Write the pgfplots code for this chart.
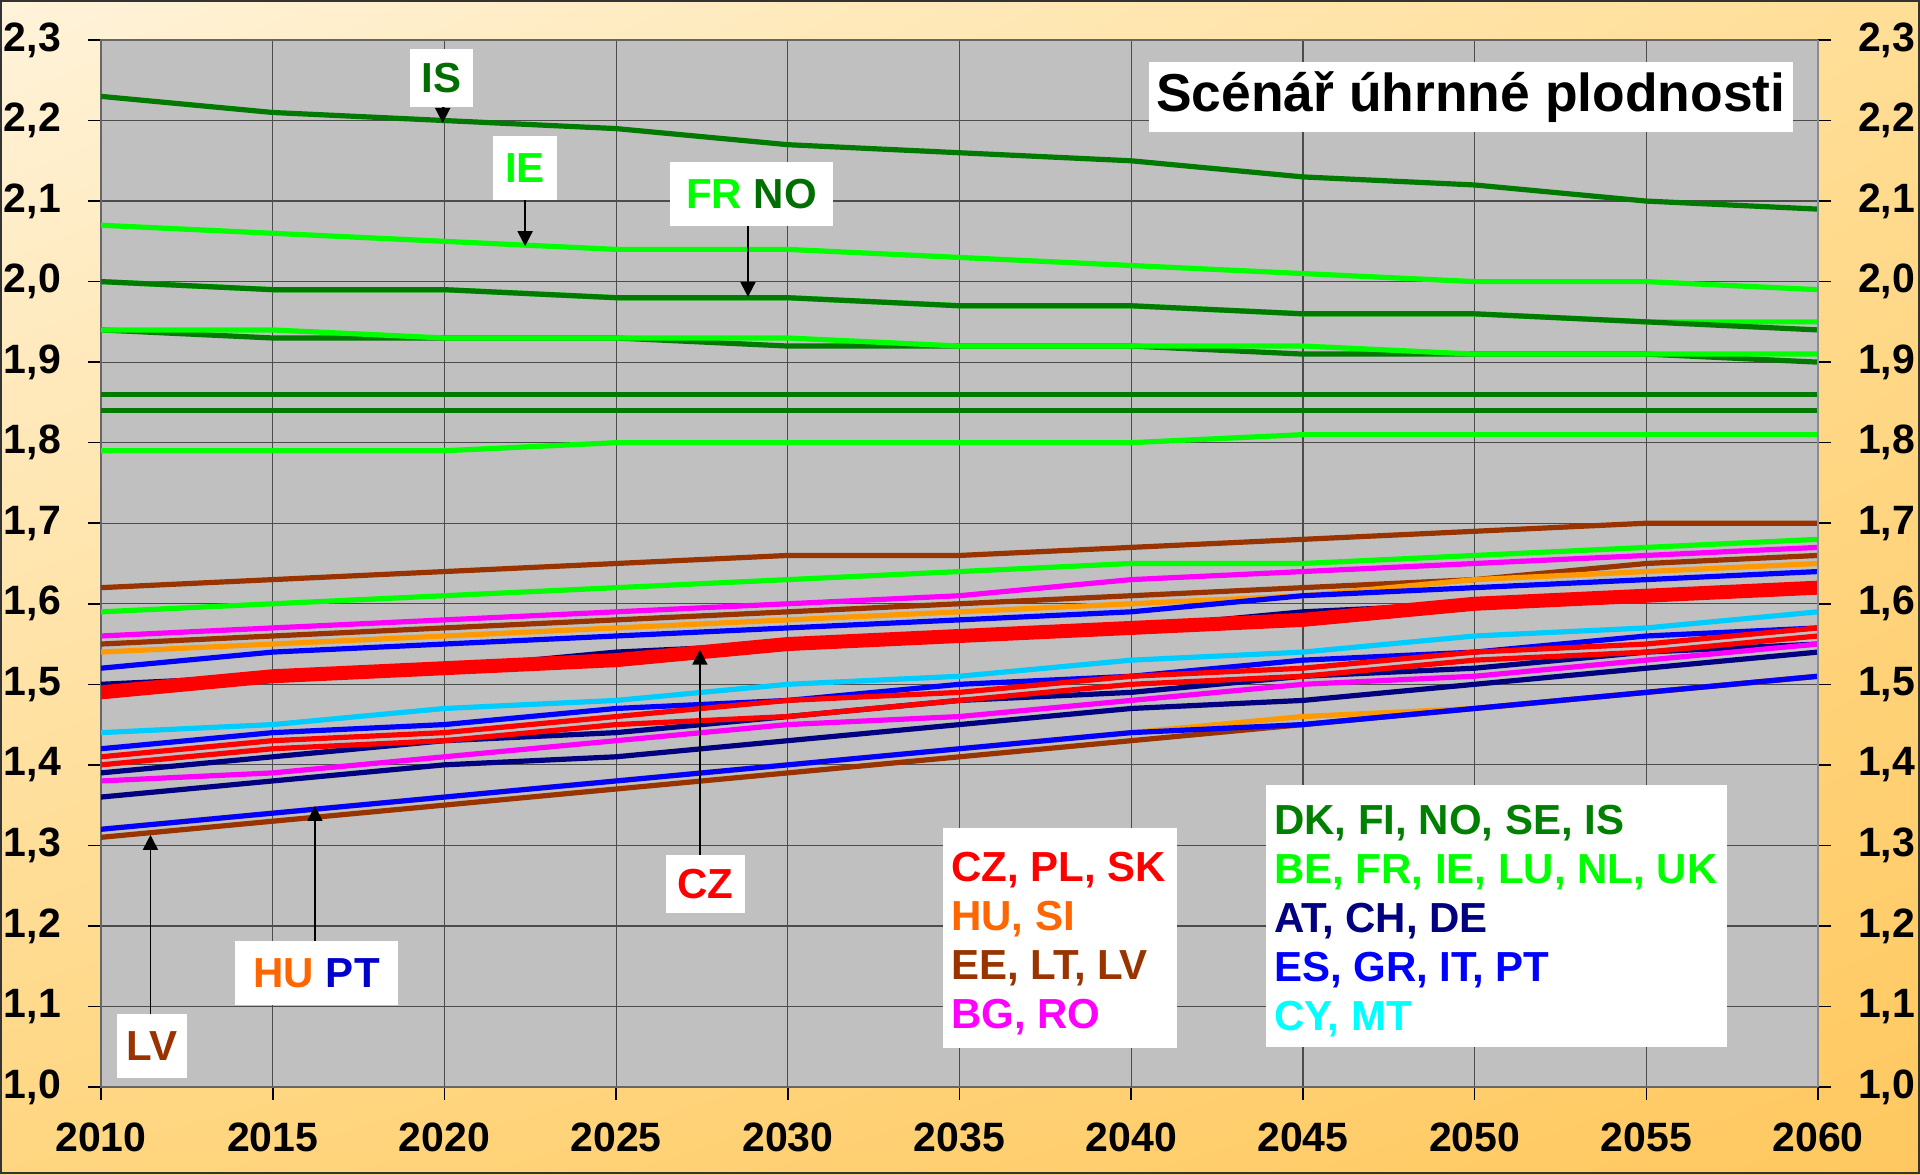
\documentclass[border=0pt]{standalone}
\usepackage{fontspec}
\setmainfont{Liberation Sans}
\usepackage{pgfplots}
\pgfplotsset{compat=1.18}
\usepackage{pgfplotstable}
\usetikzlibrary{arrows.meta,shadings}

\definecolor{dgreen}{RGB}{0,122,0}
\definecolor{dgreenT}{RGB}{0,110,0}
\definecolor{dgreenL}{RGB}{0,128,0}
\definecolor{lgreen}{RGB}{0,255,0}
\definecolor{brownc}{RGB}{153,51,0}
\definecolor{magc}{RGB}{255,0,255}
\definecolor{orangec}{RGB}{255,153,0}
\definecolor{orangeT}{RGB}{255,102,0}
\definecolor{bluec}{RGB}{0,0,255}
\definecolor{blueT}{RGB}{0,0,204}
\definecolor{navyc}{RGB}{0,0,128}
\definecolor{redc}{RGB}{255,0,0}
\definecolor{cyanc}{RGB}{0,204,255}
\definecolor{cyanT}{RGB}{0,255,255}
\definecolor{plotgray}{RGB}{192,192,192}
\definecolor{bgA}{RGB}{255,243,218}
\definecolor{bgB}{RGB}{255,222,150}
\definecolor{bgC}{RGB}{255,214,128}
\definecolor{bgD}{RGB}{255,200,95}

\pgfplotstableread{
year IS   IE   FR   NO   DGa  LGa  DGb  DGc  LGb  LGc  BRa  MGa  BRb  ORa  BLa  NVa  CZ   CY   BLb  RDb  RDc  NVb  MGb  NVc  HU   LV   PT
2010 2.23 2.07 2.00 2.00 1.94 1.94 1.86 1.84 1.79 1.59 1.62 1.56 1.55 1.54 1.52 1.50 1.49 1.44 1.42 1.41 1.40 1.39 1.38 1.36 1.32 1.31 1.32
2015 2.21 2.06 1.99 1.99 1.93 1.94 1.86 1.84 1.79 1.60 1.63 1.57 1.56 1.55 1.54 1.51 1.51 1.45 1.44 1.43 1.42 1.41 1.39 1.38 1.34 1.33 1.34
2020 2.20 2.05 1.99 1.99 1.93 1.93 1.86 1.84 1.79 1.61 1.64 1.58 1.57 1.56 1.55 1.52 1.52 1.47 1.45 1.44 1.43 1.43 1.41 1.40 1.36 1.35 1.36
2025 2.19 2.04 1.98 1.98 1.93 1.93 1.86 1.84 1.80 1.62 1.65 1.59 1.58 1.57 1.56 1.54 1.53 1.48 1.47 1.46 1.45 1.44 1.43 1.41 1.38 1.37 1.38
2030 2.17 2.04 1.98 1.98 1.92 1.93 1.86 1.84 1.80 1.63 1.66 1.60 1.59 1.58 1.57 1.55 1.55 1.50 1.48 1.48 1.46 1.46 1.45 1.43 1.40 1.39 1.40
2035 2.16 2.03 1.97 1.97 1.92 1.92 1.86 1.84 1.80 1.64 1.66 1.61 1.60 1.59 1.58 1.56 1.56 1.51 1.50 1.49 1.48 1.48 1.46 1.45 1.42 1.41 1.42
2040 2.15 2.02 1.97 1.97 1.92 1.92 1.86 1.84 1.80 1.65 1.67 1.63 1.61 1.60 1.59 1.57 1.57 1.53 1.51 1.51 1.50 1.49 1.48 1.47 1.44 1.43 1.44
2045 2.13 2.01 1.96 1.96 1.91 1.92 1.86 1.84 1.81 1.65 1.68 1.64 1.62 1.61 1.61 1.59 1.58 1.54 1.53 1.52 1.51 1.51 1.50 1.48 1.46 1.45 1.45
2050 2.12 2.00 1.96 1.96 1.91 1.91 1.86 1.84 1.81 1.66 1.69 1.65 1.63 1.63 1.62 1.60 1.60 1.56 1.54 1.54 1.53 1.52 1.51 1.50 1.47 1.47 1.47
2055 2.10 2.00 1.95 1.95 1.91 1.91 1.86 1.84 1.81 1.67 1.70 1.66 1.65 1.64 1.63 1.61 1.61 1.57 1.56 1.55 1.54 1.54 1.53 1.52 1.49 1.49 1.49
2060 2.09 1.99 1.95 1.94 1.90 1.91 1.86 1.84 1.81 1.68 1.70 1.67 1.66 1.65 1.64 1.62 1.62 1.59 1.57 1.57 1.56 1.55 1.55 1.54 1.51 1.51 1.51
}\data

\begin{document}
\begin{tikzpicture}[x=1pt,y=1pt]
\useasboundingbox (0,0) rectangle (960,587);
\shade[upper left=bgA, upper right=bgB, lower left=bgC, lower right=bgD] (0,0) rectangle (960,587);
\draw[black!80, line width=1pt] (0.5,0.5) rectangle (959.5,586.5);

\begin{axis}[
  at={(50.5pt,43.5pt)}, anchor=south west,
  scale only axis, width=858.5pt, height=523.5pt,
  xmin=2010, xmax=2060, ymin=1, ymax=2.3,
  xtick={2010,2015,...,2060},
  ytick={1.0,1.1,1.2,1.3,1.4,1.5,1.6,1.7,1.8,1.9,2.0,2.1,2.2,2.3},
  xtick pos=left, ytick pos=left,
  tick align=outside, major tick length=6.5pt,
  tick style={black, line width=0.8pt},
  grid=major, major grid style={black!70, line width=0.6pt},
  axis background/.style={fill=plotgray},
  axis line style={black!60, line width=1.2pt},
  tick label style={font=\bfseries\fontsize{20.5}{21}\selectfont, black},
  xticklabel style={yshift=-8pt, /pgf/number format/.cd, 1000 sep={}, assume math mode=true},
  yticklabel style={xshift=-10pt, /pgf/number format/.cd, fixed, fixed zerofill, precision=1, use comma, assume math mode=true},
  clip mode=individual,
  every axis plot/.append style={line width=2.6pt, line join=round, no markers},
]
% upper group
\addplot[dgreen] table[x=year,y=DGb]{\data};
\addplot[dgreen] table[x=year,y=DGc]{\data};
\addplot[lgreen] table[x=year,y=LGb]{\data};
\addplot[lgreen] table[x=year,y=FR]{\data};
\addplot[dgreen] table[x=year,y=NO]{\data};
\addplot[dgreen] table[x=year,y=DGa]{\data};
\addplot[lgreen] table[x=year,y=LGa]{\data};
\addplot[lgreen] table[x=year,y=IE]{\data};
\addplot[dgreen] table[x=year,y=IS]{\data};
% lower group
\addplot[brownc] table[x=year,y=BRa]{\data};
\addplot[lgreen] table[x=year,y=LGc]{\data};
\addplot[brownc] table[x=year,y=BRb]{\data};
\addplot[magc] table[x=year,y=MGa]{\data};
\addplot[orangec] table[x=year,y=ORa]{\data};
\addplot[bluec] table[x=year,y=BLa]{\data};
\addplot[navyc] table[x=year,y=NVa]{\data};
\addplot[redc, line width=7pt] table[x=year,y=CZ]{\data};
\addplot[navyc] table[x=year,y=NVc]{\data};
\addplot[navyc] table[x=year,y=NVb]{\data};
\addplot[magc] table[x=year,y=MGb]{\data};
\addplot[redc] table[x=year,y=RDc]{\data};
\addplot[bluec] table[x=year,y=BLb]{\data};
\addplot[redc] table[x=year,y=RDb]{\data};
\addplot[cyanc] table[x=year,y=CY]{\data};
\addplot[orangec] table[x=year,y=HU]{\data};
\addplot[brownc] table[x=year,y=LV]{\data};
\addplot[bluec] table[x=year,y=PT]{\data};

% arrows
\tikzset{arr/.style={black, line width=0.9pt, -{Triangle[width=7.5pt,length=7.5pt]}}}
\draw[arr] (axis cs:2019.95,2.2168) -- (axis cs:2019.95,2.197);
\draw[arr] (axis cs:2022.35,2.101) -- (axis cs:2022.35,2.044);
\draw[arr] (axis cs:2028.84,2.069) -- (axis cs:2028.84,1.981);
\draw[arr] (axis cs:2027.44,1.2876) -- (axis cs:2027.44,1.543);
\draw[arr] (axis cs:2016.23,1.1807) -- (axis cs:2016.23,1.349);
\draw[arr] (axis cs:2011.44,1.09) -- (axis cs:2011.44,1.313);

\tikzset{lab/.style={fill=white, inner sep=0pt, font=\bfseries\fontsize{21}{25}\selectfont}}
\node[lab, minimum width=31.5pt, minimum height=29pt, text=dgreenT] at (axis cs:2019.92,2.2528) {IS};
\node[lab, minimum width=32pt, minimum height=32pt, text=lgreen] at (axis cs:2022.35,2.141) {IE};
\node[lab, minimum width=81.5pt, minimum height=32pt] at (axis cs:2028.94,2.1087) {\textcolor{lgreen}{FR} \textcolor{dgreenT}{NO}};
\node[lab, minimum width=39.5pt, minimum height=29pt, text=redc] at (axis cs:2027.6,1.2516) {CZ};
\node[lab, minimum width=81.5pt, minimum height=32pt] at (axis cs:2016.28,1.141) {\textcolor{orangeT}{HU} \textcolor{blueT}{PT}};
\node[lab, minimum width=35pt, minimum height=32pt, text=brownc] at (axis cs:2011.49,1.0503) {LV};

\node[fill=white, inner sep=0pt, minimum width=322pt, minimum height=35pt, font=\bfseries\fontsize{26.7}{30}\selectfont] at (axis cs:2049.89,2.2292) {Scénář úhrnné plodnosti};

\node[fill=white, inner sep=0pt, minimum width=117pt, minimum height=110pt] (L1) at (axis cs:2037.93,1.1845) {};
\node[anchor=west, align=left, inner sep=0pt, font=\bfseries\fontsize{21}{24.5}\selectfont] at ([xshift=4pt,yshift=-2.5pt]L1.west)
  {\textcolor{redc}{CZ, PL, SK}\\ \textcolor{orangeT}{HU, SI}\\ \textcolor{brownc}{EE, LT, LV}\\ \textcolor{magc}{BG, RO}};
\node[fill=white, inner sep=0pt, minimum width=230.5pt, minimum height=131pt] (L2) at (axis cs:2050.64,1.2118) {};
\node[anchor=west, align=left, inner sep=0pt, font=\bfseries\fontsize{21}{24.5}\selectfont] at ([xshift=4pt,yshift=-2.5pt]L2.west)
  {\textcolor{dgreenL}{DK, FI, NO, SE, IS}\\ \textcolor{lgreen}{BE, FR, IE, LU, NL, UK}\\ \textcolor{navyc}{AT, CH, DE}\\ \textcolor{bluec}{ES, GR, IT, PT}\\ \textcolor{cyanT}{CY, MT}};
\end{axis}

\begin{axis}[
  at={(50.5pt,43.5pt)}, anchor=south west,
  scale only axis, width=858.5pt, height=523.5pt,
  xmin=2010, xmax=2060, ymin=1, ymax=2.3,
  axis x line=none, axis y line*=right,
  ytick={1.0,1.1,1.2,1.3,1.4,1.5,1.6,1.7,1.8,1.9,2.0,2.1,2.2,2.3},
  tick align=outside, major tick length=6.5pt,
  tick style={black, line width=0.8pt},
  axis line style={black!45, line width=1.2pt},
  tick label style={font=\bfseries\fontsize{20.5}{21}\selectfont, black},
  yticklabel style={xshift=10pt, /pgf/number format/.cd, fixed, fixed zerofill, precision=1, use comma, assume math mode=true},
]
\addplot[draw=none] coordinates {(2010,1) (2060,2.3)};
\end{axis}
\end{tikzpicture}
\end{document}
